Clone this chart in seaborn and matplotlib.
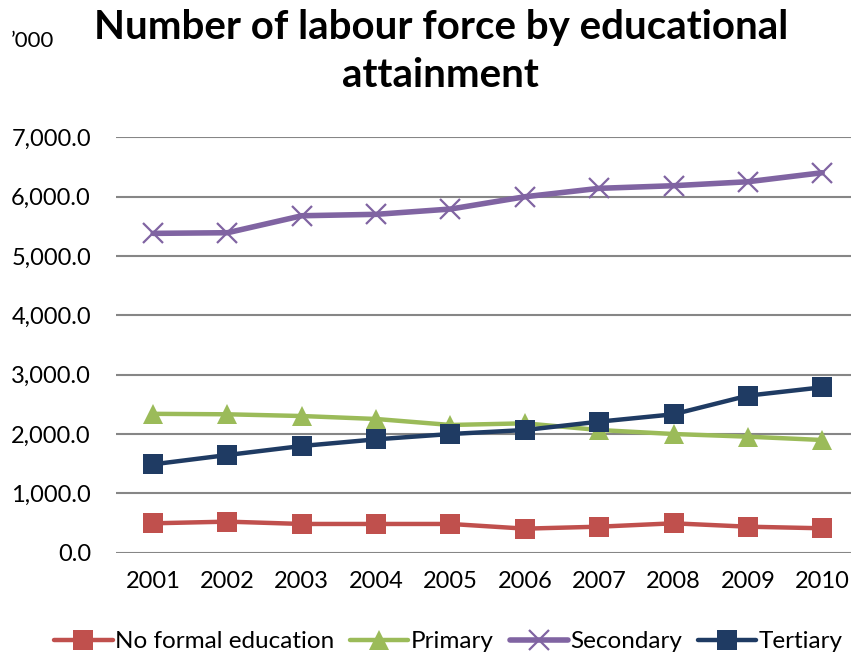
import matplotlib
matplotlib.use("Agg")
import matplotlib.pyplot as plt
from matplotlib.lines import Line2D
import seaborn as sns
import pandas as pd

years = [2001, 2002, 2003, 2004, 2005, 2006, 2007, 2008, 2009, 2010]
no_formal = [495, 523, 484, 484, 484, 405, 438, 495, 438, 411]
primary = [2340, 2332, 2303, 2253, 2152, 2180, 2067, 2000, 1955, 1899]
secondary = [5381, 5392, 5678, 5702, 5791, 5998, 6140, 6184, 6251, 6403]
tertiary = [1489, 1646, 1798, 1910, 2000, 2067, 2208, 2332, 2646, 2787]

series_names = ["No formal education", "Primary", "Secondary", "Tertiary"]
series_values = [no_formal, primary, secondary, tertiary]
y_ticks = [0, 1000, 2000, 3000, 4000, 5000, 6000, 7000]

colors = ["#C0504D", "#9BBB59", "#8064A2", "#1F3B63"]
styles = [
    dict(marker="s", markersize=14, linewidth=3.2, markeredgewidth=0),
    dict(marker="^", markersize=14, linewidth=3.2, markeredgewidth=0),
    dict(marker="x", markersize=14, linewidth=4.0, markeredgewidth=1.6),
    dict(marker="s", markersize=14, linewidth=3.2, markeredgewidth=0),
]

df = pd.DataFrame(
    [(y, name, v) for name, vals in zip(series_names, series_values) for y, v in zip(years, vals)],
    columns=["year", "series", "value"],
)

sns.set_style("white")
plt.rcParams["font.family"] = ["Lato", "DejaVu Sans"]
plt.rcParams["text.color"] = "black"

fig = plt.figure(figsize=(8.51, 6.56), dpi=100)
ax = fig.add_axes([0.1363, 0.1575, 0.8735, 0.6332])

for name, color, st in zip(series_names, colors, styles):
    sub = df[df["series"] == name]
    sns.lineplot(data=sub, x="year", y="value", ax=ax, color=color,
                 markeredgecolor=color, legend=False, zorder=3, **st)

ax.set_xlim(2000.5, 2010.5)
ax.set_ylim(0, 7000)
ax.set_yticks(y_ticks)
ax.set_yticklabels([f"{v:,.1f}" for v in y_ticks])
ax.set_xticks(years)
ax.set_xticklabels([str(y) for y in years])
ax.tick_params(axis="both", length=0, labelsize=17, colors="black")
ax.tick_params(axis="y", pad=18)
ax.tick_params(axis="x", pad=13)
ax.yaxis.grid(True, color="#868686", linewidth=1.5)
ax.xaxis.grid(False)
for sp in ax.spines.values():
    sp.set_visible(False)
ax.set_xlabel("")
ax.set_ylabel("")

fig.text(0.518, 0.987, "Number of labour force by educational\nattainment",
         ha="center", va="top", fontsize=29, fontweight="bold",
         linespacing=1.38)
fig.text(0.013, 0.937, "\u2019000", ha="left", va="center", fontsize=16)

handles = [Line2D([0], [0], color=c, markeredgecolor=c, **st)
           for c, st in zip(colors, styles)]
fig.legend(handles, series_names, loc="center", bbox_to_anchor=(0.527, 0.022),
           ncol=4, frameon=False, fontsize=17.5, handlelength=2.4,
           handletextpad=0.1, columnspacing=0.65, borderpad=0.1)

fig.savefig("out.png", dpi=100)
